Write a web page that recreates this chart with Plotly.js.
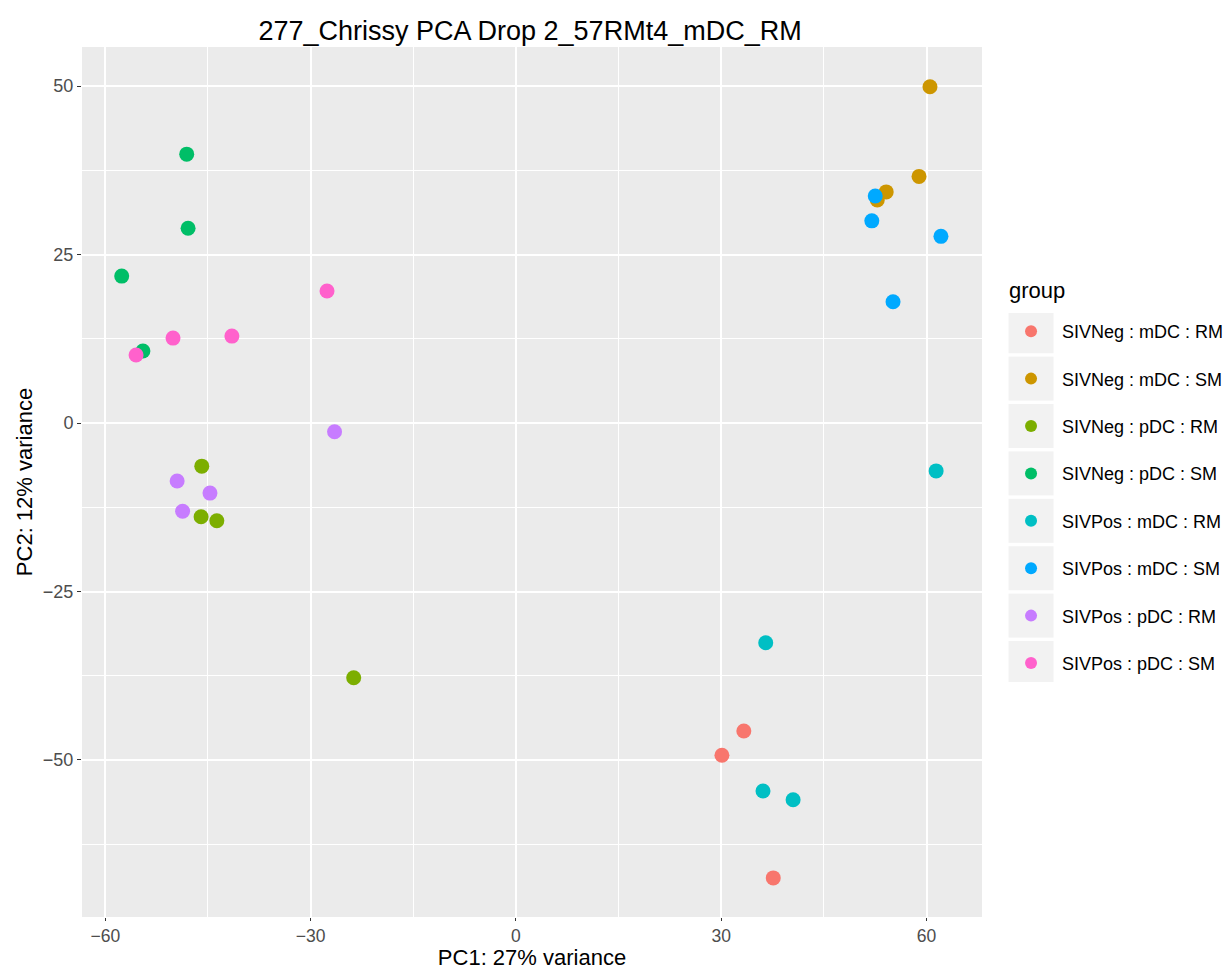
<!DOCTYPE html>
<html><head><meta charset="utf-8">
<script src="https://cdn.plot.ly/plotly-3.0.1.min.js"></script>
<style>body{margin:0;background:#fff}</style>
</head><body>
<div id="chart" style="width:1229px;height:970px"></div>
<script>
const groups = ["SIVNeg : mDC : RM","SIVNeg : mDC : SM","SIVNeg : pDC : RM","SIVNeg : pDC : SM","SIVPos : mDC : RM","SIVPos : mDC : SM","SIVPos : pDC : RM","SIVPos : pDC : SM"];
const colors = ["#F8766D","#CD9600","#7CAE00","#00BE67","#00BFC4","#00A9FF","#C77CFF","#FF61CC"];
const pc1 = [
  [33.3, 30.1, 37.6],
  [60.5, 58.9, 54.1, 52.8],
  [-45.9, -46.0, -43.7, -23.7],
  [-48.1, -47.9, -57.6, -54.5],
  [61.4, 36.5, 36.1, 40.5],
  [52.5, 52.0, 62.1, 55.1],
  [-26.5, -49.5, -44.7, -48.7],
  [-27.6, -50.1, -41.5, -55.5]
];
const pc2 = [
  [-45.7, -49.3, -67.5],
  [49.9, 36.6, 34.3, 33.1],
  [-6.4, -13.9, -14.5, -37.8],
  [39.9, 28.9, 21.8, 10.7],
  [-7.1, -32.6, -54.6, -55.9],
  [33.7, 30.0, 27.7, 18.0],
  [-1.3, -8.6, -10.4, -13.1],
  [19.6, 12.6, 12.9, 10.1]
];
const xTicks = [-60, -30, 0, 30, 60];
const yTicks = [-50, -25, 0, 25, 50];

const traces = groups.map((g, i) => ({
  type: 'scatter', mode: 'markers', name: g, legendgroup: g,
  x: pc1[i], y: pc2[i],
  marker: {color: colors[i], size: 15, line: {width: 0}},
  hoverinfo: 'x+y+name'
}));

const FONT = 'Liberation Sans, Arial, Helvetica, sans-serif';
const layout = {
  width: 1229, height: 970,
  margin: {l: 82, r: 247, t: 47, b: 53},
  paper_bgcolor: '#ffffff', plot_bgcolor: '#ebebeb',
  font: {family: FONT, color: '#000'},
  title: {text: '277_Chrissy PCA Drop 2_57RMt4_mDC_RM', font: {size: 27, color: '#000', family: FONT}, x: 0.4313, xanchor: 'center', y: 0.969, yanchor: 'middle'},
  xaxis: {
    range: [-63.4, 68.1], tickvals: xTicks, ticktext: xTicks.map(v => v < 0 ? '\u2212' + Math.abs(v) : String(v)),
    showgrid: true, gridcolor: '#ffffff', gridwidth: 1.8, zeroline: false,
    ticks: 'outside', ticklen: 3, tickcolor: '#333', tickwidth: 1.2,
    tickfont: {size: 17.5, color: '#4d4d4d'},
    minor: {dtick: 15, tick0: 15, showgrid: true, gridcolor: '#ffffff', gridwidth: 0.8, ticks: ''},
    title: {text: 'PC1: 27% variance', font: {size: 22, color: '#000'}, standoff: 7},
    showline: false, automargin: false
  },
  yaxis: {
    range: [-73.3, 55.8], tickvals: yTicks, ticktext: yTicks.map(v => v < 0 ? '\u2212' + Math.abs(v) : String(v)),
    showgrid: true, gridcolor: '#ffffff', gridwidth: 1.8, zeroline: false,
    ticks: 'outside', ticklen: 4, tickcolor: '#333', tickwidth: 1.2,
    tickfont: {size: 18, color: '#4d4d4d'},
    minor: {dtick: 25, tick0: 12.5, showgrid: true, gridcolor: '#ffffff', gridwidth: 0.8, ticks: ''},
    title: {text: 'PC2: 12% variance', font: {size: 22, color: '#000'}, standoff: 4},
    showline: false, automargin: false
  },
  showlegend: true,
  legend: {
    xref: 'container', yref: 'container',
    x: 0.8137, xanchor: 'left', y: 0.6773, yanchor: 'top',
    font: {size: 18, color: '#000'},
    tracegroupgap: 21, itemsizing: 'constant', itemwidth: 52, bgcolor: 'rgba(0,0,0,0)'
  },
  annotations: [{
    text: 'group', xref: 'paper', yref: 'paper', x: (1007 - 82) / 900, y: (917 - 290) / 870,
    xanchor: 'left', yanchor: 'middle', showarrow: false,
    font: {size: 22, color: '#000'}
  }]
};

Plotly.newPlot('chart', traces, layout, {displayModeBar: false}).then(() => {
  const ns = 'http://www.w3.org/2000/svg';
  document.querySelectorAll('.legend .traces').forEach(t => {
    const r = document.createElementNS(ns, 'rect');
    r.setAttribute('x', 8.5); r.setAttribute('y', -22);
    r.setAttribute('width', 45); r.setAttribute('height', 44);
    r.setAttribute('fill', '#f2f2f2');
    t.insertBefore(r, t.firstChild);
  });
});
</script>
</body></html>
